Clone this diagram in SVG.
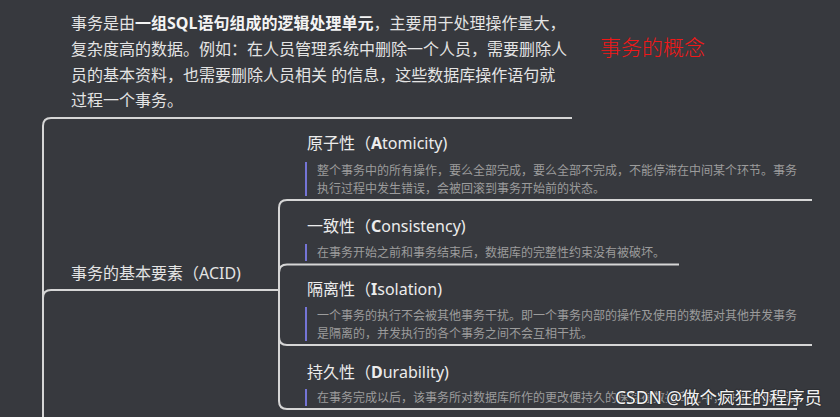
<svg xmlns="http://www.w3.org/2000/svg" width="840" height="417" viewBox="0 0 840 417">
<style>
.t{font-family:"Noto Sans","Noto Sans CJK SC",sans-serif}
.para{font-size:16px;fill:#e4e4e4}
.b{font-weight:bold;fill:#f4f4f4}
.ttl{font-size:16px;fill:#ececec}
.desc{font-size:12px;fill:#9c9c9c}
.ln{fill:none;stroke:#d6d6d6;stroke-width:2;stroke-linecap:butt}
.bar{fill:#7474d6}
</style>
<rect width="840" height="417" fill="#37393e"/>
<g id="connectors">
<path class="ln" d="M43,417 V126 Q43,118 51,118 H66"/>
<path class="ln" d="M43,417 V298 Q43,290 51,290 H66"/>
<path class="ln" d="M255,290 H279"/>
<path class="ln" d="M279,290 V208 Q279,200 287,200 H300"/>
<path class="ln" d="M279,290 V272.5 Q279,264.5 287,264.5 H300"/>
<path class="ln" d="M279,290 V337 Q279,345 287,345 H300"/>
<path class="ln" d="M279,290 V401 Q279,409 287,409 H300"/>
</g>
<g id="node-concept">
<text class="t para" x="71" y="29">事务是由<tspan class="b">一组SQL语句组成的逻辑处理单元</tspan>，主要用于处理操作量大，</text>
<text class="t para" x="71" y="55">复杂度高的数据。例如：在人员管理系统中删除一个人员，需要删除人</text>
<text class="t para" x="71" y="81">员的基本资料，也需要删除人员相关 的信息，这些数据库操作语句就</text>
<text class="t para" x="71" y="106">过程一个事务。</text>
<path class="ln" d="M66,118 H572"/>
</g>
<g id="label-concept">
<text class="t" x="600" y="54.5" font-size="21" fill="#f01818" font-weight="300">事务的概念</text>
</g>
<g id="node-acid">
<text class="t para" x="71" y="279">事务的基本要素（ACID)</text>
<path class="ln" d="M66,290 H255"/>
</g>
<g id="node-atomicity">
<text class="t ttl" x="307" y="149">原子性（<tspan font-weight="bold">A</tspan>tomicity)</text>
<rect class="bar" x="305" y="162" width="2" height="34"/>
<text class="t desc" x="317" y="175">整个事务中的所有操作，要么全部完成，要么全部不完成，不能停滞在中间某个环节。事务</text>
<text class="t desc" x="317" y="193">执行过程中发生错误，会被回滚到事务开始前的状态。</text>
<path class="ln" d="M300,200 H812"/>
</g>
<g id="node-consistency">
<text class="t ttl" x="307" y="232">一致性（<tspan font-weight="bold">C</tspan>onsistency)</text>
<rect class="bar" x="305" y="244" width="2" height="17"/>
<text class="t desc" x="317" y="257">在事务开始之前和事务结束后，数据库的完整性约束没有被破坏。</text>
<path class="ln" d="M300,264.5 H679"/>
</g>
<g id="node-isolation">
<text class="t ttl" x="307" y="295">隔离性（<tspan font-weight="bold">I</tspan>solation)</text>
<rect class="bar" x="305" y="307" width="2" height="34"/>
<text class="t desc" x="317" y="320">一个事务的执行不会被其他事务干扰。即一个事务内部的操作及使用的数据对其他并发事务</text>
<text class="t desc" x="317" y="338">是隔离的，并发执行的各个事务之间不会互相干扰。</text>
<path class="ln" d="M300,345 H812"/>
</g>
<g id="node-durability">
<text class="t ttl" x="307" y="378">持久性（<tspan font-weight="bold">D</tspan>urability)</text>
<rect class="bar" x="305" y="389" width="2" height="17"/>
<text class="t desc" x="317" y="402">在事务完成以后，该事务所对数据库所作的更改便持久的保存在数据库之中，并不会被回滚。</text>
<path class="ln" d="M300,409 H797"/>
</g>
<g id="watermark">
<text class="t" x="615" y="404" font-size="17.5" fill="#f2f2f2" stroke="#2e3034" stroke-width="2" paint-order="stroke">CSDN @做个疯狂的程序员</text>
</g>
</svg>
